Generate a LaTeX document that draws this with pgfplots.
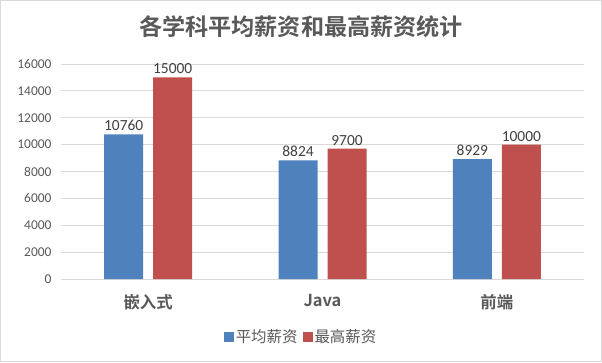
\documentclass[border=0pt]{standalone}
\usepackage{fontspec}
\usepackage{pgfplots}
\pgfplotsset{compat=1.18}
\setmainfont{Carlito}
\newfontfamily\cjk{Noto Sans CJK SC}[BoldFont={Noto Sans CJK SC Bold}]
\definecolor{cblue}{HTML}{4F81BD}
\definecolor{cred}{HTML}{C0504D}
\definecolor{gridgray}{HTML}{D9D9D9}
\definecolor{txtgray}{HTML}{595959}
\definecolor{lblgray}{HTML}{404040}
\begin{document}
\begin{tikzpicture}[x=1bp,y=1bp]
\draw[color=gridgray,line width=1bp] (0.5,0.5) rectangle (601.5,361.5);
\node[font=\cjk\bfseries\fontsize{23.2}{23.2}\selectfont, text=txtgray] at (301,335) {各学科平均薪资和最高薪资统计};
\begin{axis}[
  at={(61bp,83bp)}, anchor=south west,
  scale only axis, width=523bp, height=215bp,
  ymin=0, ymax=16000, ytick={0,2000,...,16000},
  xmin=-0.5, xmax=2.5, xtick={0,1,2},
  xticklabels={嵌入式,Java,前端},
  ymajorgrids, grid style={gridgray, line width=0.8bp},
  axis line style={draw=none},
  major tick style={draw=none},
  scaled y ticks=false,
  /pgf/number format/1000 sep={},
  /pgf/number format/assume math mode=true,
  y tick label style={font=\fontsize{13.5}{13.5}\selectfont, text=txtgray, xshift=-6bp},
  x tick label style={font=\cjk\bfseries\fontsize{16.5}{16.5}\selectfont, text=txtgray, yshift=-8bp},
  ybar, bar width=39bp,
  nodes near coords,
  every node near coord/.append style={font=\fontsize{15.5}{15.5}\selectfont, text=lblgray},
  legend style={at={(0.459,-0.27)}, anchor=center, draw=none, legend columns=2,
    font=\cjk\fontsize{15.5}{15.5}\selectfont, text=txtgray,
    /tikz/every even column/.append style={column sep=3bp}},
  legend image code/.code={\fill[#1] (0bp,-5bp) rectangle (10bp,5bp);},
]
\addplot[fill=cblue, draw=none, bar shift=-24.5bp] coordinates {(0,10760) (1,8824) (2,8929)};
\addplot[fill=cred, draw=none, bar shift=24.5bp] coordinates {(0,15000) (1,9700) (2,10000)};
\legend{平均薪资,最高薪资}
\end{axis}
\end{tikzpicture}
\end{document}
